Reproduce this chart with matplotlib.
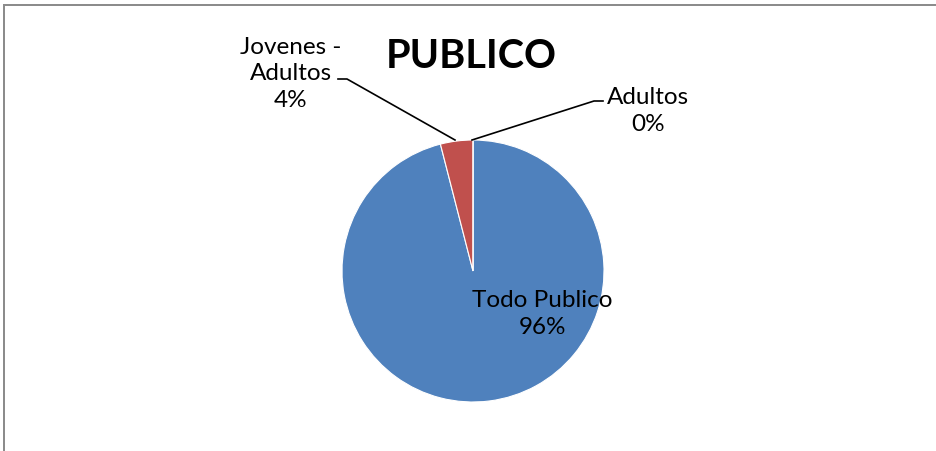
import matplotlib
matplotlib.use('Agg')
from matplotlib import pyplot as plt
from matplotlib.patches import Rectangle

# Datos del grafico
categorias = ['Todo Publico', 'Jovenes -\nAdultos', 'Adultos']
valores = [96, 4, 0]
colores = ['#4F81BD', '#C0504D', '#9BBB59']
titulo = 'PUBLICO'

plt.rcParams['font.family'] = ['Lato', 'DejaVu Sans']

W, H = 936, 452
fig = plt.figure(figsize=(W / 100, H / 100), dpi=100)
ax = fig.add_axes([0, 0, 1, 1])

# borde del area del grafico (recortado a derecha y abajo), como franjas rellenas
gris = '#8c8c8c'
fig.patches.append(Rectangle((3 / W, 1 - 7 / H), 1.0, 2 / H, transform=fig.transFigure,
                             facecolor=gris, edgecolor='none'))
fig.patches.append(Rectangle((3 / W, 0.0), 2 / W, 1 - 5 / H, transform=fig.transFigure,
                             facecolor=gris, edgecolor='none'))

cx, cy, r = 473, H - 272, 131
ax.pie(valores, colors=colores, startangle=90, counterclock=False,
       center=(cx, cy), radius=r, frame=True,
       wedgeprops={'linewidth': 0.8, 'edgecolor': 'white'})
ax.set_xlim(0, W)
ax.set_ylim(0, H)
ax.set_aspect('equal')
ax.axis('off')

total = sum(valores)
pct = [round(v * 100 / total) for v in valores]

fs = 17.5
# Todo Publico dentro del sector
ax.text(542, H - 314, f'{categorias[0]}\n{pct[0]}%', ha='center', va='center',
        fontsize=fs, linespacing=1.3)
# Jovenes - Adultos con linea guia
ax.text(291, H - 74, f'{categorias[1]}\n{pct[1]}%', ha='center', va='center',
        fontsize=fs, linespacing=1.3)
ax.plot([338, 347, 455], [H - 80, H - 80, H - 141], color='black', linewidth=1.2)
# Adultos con linea guia
ax.text(648, H - 111, f'{categorias[2]}\n{pct[2]}%', ha='center', va='center',
        fontsize=fs, linespacing=1.3)
ax.plot([472, 594, 603], [H - 141, H - 102, H - 102], color='black', linewidth=1.2)

ax.text(471, H - 57, titulo, ha='center', va='center', fontsize=28.5, fontweight='bold')

fig.savefig('out.png', dpi=100)
